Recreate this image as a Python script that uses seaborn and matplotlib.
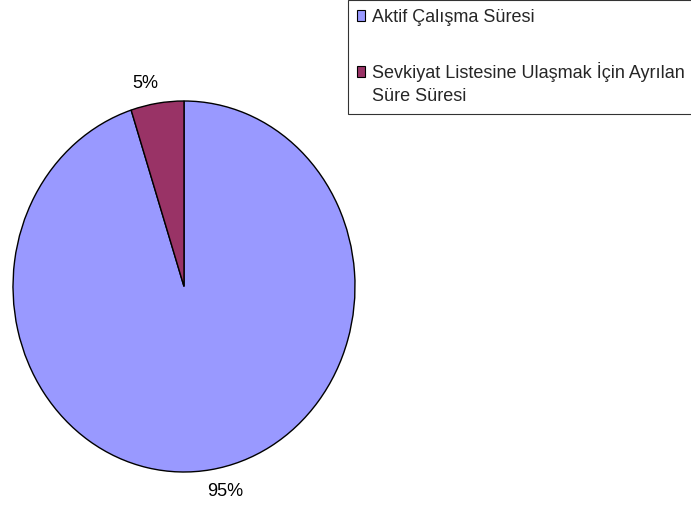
import matplotlib
matplotlib.use("Agg")
import matplotlib.pyplot as plt
import seaborn as sns
from matplotlib.patches import Patch, Rectangle
from matplotlib.legend_handler import HandlerPatch

# veriler
labels = ["Aktif Çalışma Süresi", "Sevkiyat Listesine Ulaşmak İçin Ayrılan\nSüre Süresi"]
values = [95, 5]
colors = ["#9999FF", "#993366"]

sns.set_style("white")
plt.rcParams['font.family'] = ['Liberation Sans', 'DejaVu Sans']


# çok satırlı etikette kutucuğu ilk satıra hizala
class TopHandler(HandlerPatch):
    def __init__(self, shift=0, **kw):
        super().__init__(**kw)
        self.shift = shift

    def create_artists(self, legend, orig_handle, xdescent, ydescent,
                       width, height, fontsize, trans):
        p = Rectangle((-xdescent, -ydescent + self.shift), width, height,
                      facecolor=orig_handle.get_facecolor(),
                      edgecolor=orig_handle.get_edgecolor(),
                      linewidth=orig_handle.get_linewidth())
        p.set_transform(trans)
        return [p]


fig = plt.figure(figsize=(6.91, 5.08), dpi=100)
W, H = 691, 508
# pasta alanı (piksel): x 13..355, y 101..472
ax = fig.add_axes([13 / W, (H - 472) / H, 342 / W, 371 / H])

wedges, texts, autotexts = ax.pie(
    values, colors=colors, startangle=90, counterclock=False,
    autopct='%1.0f%%', pctdistance=1.2,
    wedgeprops=dict(edgecolor="black", linewidth=1.0),
    textprops=dict(fontsize=13, color="black"),
    radius=1.0,
)
ax.set_aspect("auto")
ax.set_xlim(-1, 1)
ax.set_ylim(-1, 1)
ax.axis("off")

# etiket konumları (Excel yerleşimi)
autotexts[0].set_position((0.24, -1.105))
autotexts[1].set_position((-0.225, 1.095))

handles = [Patch(facecolor=c, edgecolor="black", linewidth=0.8) for c in colors]
leg = fig.legend(handles, labels, loc="upper left",
                 bbox_to_anchor=(348 / W, 1.0), bbox_transform=fig.transFigure,
                 fancybox=False, frameon=True, edgecolor="black",
                 fontsize=13, handlelength=0.45, handleheight=0.5,
                 handletextpad=0.4, labelspacing=1.97, borderpad=0.5,
                 borderaxespad=0,
                 handler_map={handles[1]: TopHandler(shift=8.5)})
leg.get_frame().set_linewidth(0.8)
for t in leg.get_texts():
    t.set_linespacing(1.5)

plt.savefig("out.png", dpi=100)
